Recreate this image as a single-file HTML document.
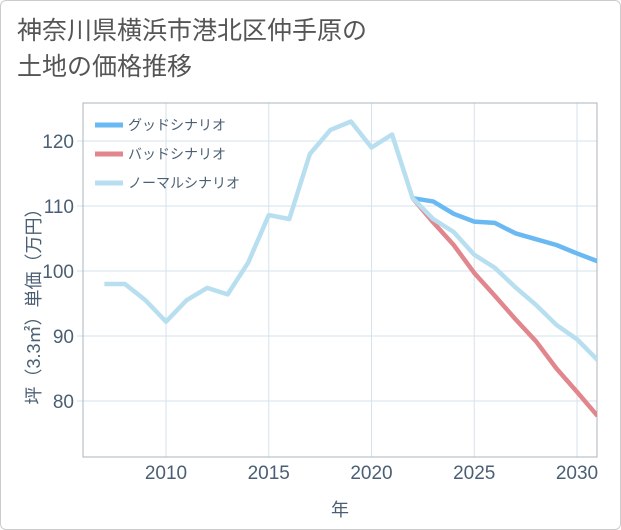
<!DOCTYPE html>
<html><head><meta charset="utf-8"><style>
body{margin:0;background:#fff;font-family:"Liberation Sans","Noto Sans CJK JP",sans-serif;}
#card{position:absolute;left:0;top:0;width:619px;height:528px;border:1px solid #ccc;border-radius:6px;background:#fff;}
#title{position:absolute;left:17px;top:13px;font-size:25px;line-height:36px;color:#555;}
svg{position:absolute;left:0;top:0;}
</style></head><body>
<div id="card"></div>
<div id="title">神奈川県横浜市港北区仲手原の<br>土地の価格推移</div>
<svg id="chart" width="621" height="530"></svg>
<script>
const years=[2007,2008,2009,2010,2011,2012,2013,2014,2015,2016,2017,2018,2019,2020,2021,2022,2023,2024,2025,2026,2027,2028,2029,2030,2031];
const normal=[98,98,95.5,92.2,95.5,97.4,96.4,101.3,108.6,108,118,121.7,123,119,121,111.2,108,106,102.5,100.5,97.5,94.8,91.7,89.5,86.3];
const goodYears=[2022,2023,2024,2025,2026,2027,2028,2029,2030,2031];
const good=[111.2,110.7,108.8,107.6,107.4,105.8,104.9,104,102.7,101.5];
const bad=[111.2,107.5,104,99.7,96.2,92.6,89.2,85,81.4,77.7];
const xTicks=[2010,2015,2020,2025,2030];
const yTicks=[80,90,100,110,120];
const L=83,R=597,T=103,B=457;
const x=v=>166+(v-2010)*20.55;
const y=v=>141+(120-v)*6.5;
const svg=document.getElementById('chart');
const NS='http://www.w3.org/2000/svg';
function mk(t,a){const e=document.createElementNS(NS,t);for(const k in a)e.setAttribute(k,a[k]);svg.appendChild(e);return e;}
xTicks.forEach(t=>{
const g=mk('line',{x1:x(t),x2:x(t),y1:T,y2:B,stroke:'#d5e3ec','stroke-width':1});


const l=mk('text',{x:x(t),y:479,'text-anchor':'middle','font-size':19,fill:'#4a5f73'});l.textContent=t;


});
yTicks.forEach(t=>{
const g=mk('line',{x1:L-6,x2:R,y1:y(t),y2:y(t),stroke:'#d5e3ec','stroke-width':1});


const l=mk('text',{x:74,y:y(t)+7,'text-anchor':'end','font-size':19,fill:'#4a5f73'});l.textContent=t;


});
const frame=mk('rect',{x:L,y:T,width:R-L,height:B-T,fill:'none',stroke:'#aab4bc','stroke-width':1});


const clip=mk('clipPath',{id:'c'});const cr=document.createElementNS(NS,'rect');
['x','y','width','height'].forEach((k,i)=>cr.setAttribute(k,[L,T,R-L,B-T][i]));clip.appendChild(cr);
function line(xs,vs,color,name){
const p=mk('polyline',{points:xs.map((v,i)=>x(v)+','+y(vs[i])).join(' '),fill:'none',stroke:color,'stroke-width':4.5,'stroke-linejoin':'round','clip-path':'url(#c)'});


}
line(goodYears,bad,'#e0868c','bad-scenario-line');
line(goodYears,good,'#6ab9f3','good-scenario-line');
line(years,normal,'#b8dff0','normal-scenario-line');
const leg=[['グッドシナリオ','#6ab9f3'],['バッドシナリオ','#e0868c'],['ノーマルシナリオ','#b8dff0']];
leg.forEach((d,i)=>{
const ly=125+i*29;
const s=mk('line',{x1:95,x2:123,y1:ly,y2:ly,stroke:d[1],'stroke-width':5});


const t=mk('text',{x:128,y:ly+5,'font-size':14,fill:'#4a5f73'});t.textContent=d[0];


});
const xt=mk('text',{x:340,y:516,'text-anchor':'middle','font-size':18,fill:'#4a5f73'});xt.textContent='年';


const yt=mk('text',{x:0,y:0,'text-anchor':'middle','font-size':18,fill:'#4a5f73',transform:'translate(40,302) rotate(-90)'});yt.textContent='坪（3.3㎡）単価（万円）';


</script>
</body></html>
